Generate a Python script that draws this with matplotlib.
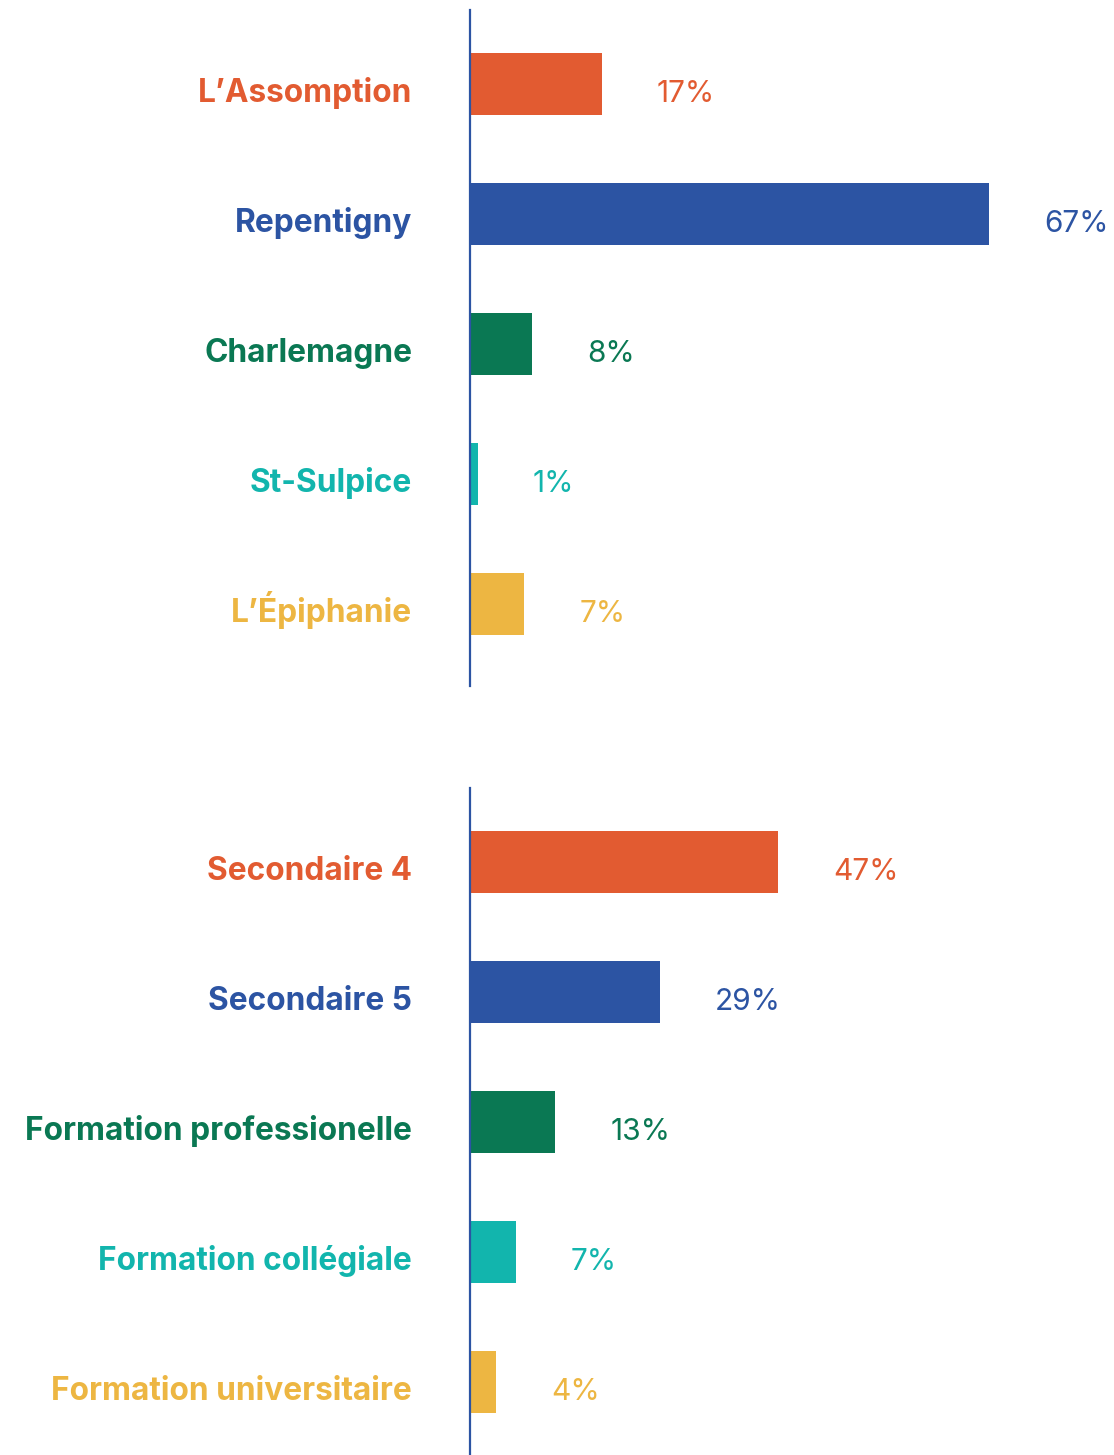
import matplotlib.pyplot as plt

plt.rcParams['font.family'] = ['Inter', 'DejaVu Sans']

# top panel: municipality
villes = ["L\u2019Assomption", "Repentigny", "Charlemagne", "St-Sulpice", "L\u2019\u00c9piphanie"]
villes_pct = [17, 67, 8, 1, 7]

# bottom panel: school level
niveaux = ["Secondaire 4", "Secondaire 5", "Formation professionelle",
           "Formation coll\u00e9giale", "Formation universitaire"]
niveaux_pct = [47, 29, 13, 7, 4]

colors = ["#E25B31", "#2C54A3", "#0A7853", "#12B5AD", "#EDB642"]

W, H = 1114, 1455
fig = plt.figure(figsize=(W / 100, H / 100), dpi=100)

PX = 0.72  # points per pixel at 100 dpi


def panel(rect, labels, vals, xmax, ylim):
    ax = fig.add_axes(rect)
    y = list(range(len(vals)))
    ax.barh(y, vals, height=62 / 130, color=colors)
    ax.set_xlim(0, xmax)
    ax.set_ylim(*ylim)
    for s in ['top', 'right', 'bottom']:
        ax.spines[s].set_visible(False)
    ax.spines['left'].set_color('#2C54A3')
    ax.spines['left'].set_linewidth(1.6)
    ax.set_xticks([])
    ax.set_yticks([])
    for i, (lab, v) in enumerate(zip(labels, vals)):
        ax.annotate(lab, (0, i), xytext=(-58 * PX, -18 * PX), textcoords='offset points',
                    ha='right', va='baseline', fontsize=22.8, fontweight='bold',
                    color=colors[i], annotation_clip=False)
        ax.annotate(f"{v}%", (v, i), xytext=(55 * PX, -18 * PX), textcoords='offset points',
                    ha='left', va='baseline', fontsize=21.5, color=colors[i],
                    annotation_clip=False)
    return ax


# top axis spans y px 10..686, bottom 788..1455, both start at x px 470
panel([470 / W, 1 - 686 / H, 1 - 470 / W, 676 / H], villes, villes_pct,
      (W - 470) / 7.75, (4 + 82 / 130, -74 / 130))
panel([470 / W, 0, 1 - 470 / W, 667 / H], niveaux, niveaux_pct,
      (W - 470) / 6.55, (4 + 73 / 130, -74 / 130))

fig.savefig("out.png", dpi=100)
